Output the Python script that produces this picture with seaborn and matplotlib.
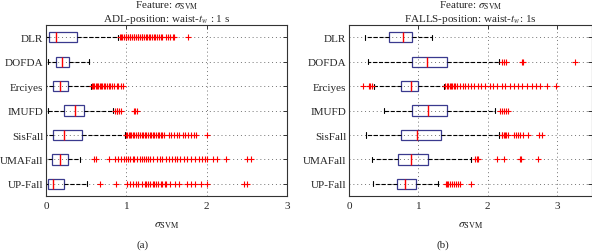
import numpy as np
import pandas as pd
import matplotlib
matplotlib.use("Agg")
import matplotlib.pyplot as plt
import seaborn as sns

datasets = ["DLR", "DOFDA", "Erciyes", "IMUFD", "SisFall", "UMAFall", "UP-Fall"]

# box statistics (lower whisker, q1, median, q3, upper whisker)
adl_whislo = [0.005, 0.02, 0.005, 0.02, 0.005, 0.005, 0.005]
adl_q1 = [0.04, 0.12, 0.083, 0.23, 0.09, 0.08, 0.03]
adl_med = [0.125, 0.195, 0.18, 0.355, 0.22, 0.17, 0.09]
adl_q3 = [0.39, 0.29, 0.275, 0.475, 0.45, 0.28, 0.225]
adl_whishi = [0.90, 0.54, 0.555, 0.83, 0.985, 0.42, 0.51]
adl_fliers = [
    [0.92, 0.94, 0.95, 0.97, 0.99, 1.0, 1.02, 1.04, 1.05, 1.07, 1.09, 1.1, 1.12, 1.14, 1.15,
     1.17, 1.19, 1.2, 1.22, 1.24, 1.26, 1.28, 1.3, 1.32, 1.34, 1.36, 1.38, 1.41, 1.43, 1.45,
     1.49, 1.52, 1.55, 1.58, 1.59, 1.77],
    [],
    [0.57, 0.59, 0.6, 0.62, 0.64, 0.65, 0.67, 0.69, 0.7, 0.72, 0.74, 0.76, 0.78, 0.8, 0.82,
     0.85, 0.88, 0.9, 0.93, 0.96],
    [0.86, 0.88, 0.89, 0.91, 0.93, 1.09, 1.11, 1.13],
    [1.0, 1.01, 1.03, 1.05, 1.06, 1.08, 1.1, 1.12, 1.14, 1.15, 1.17, 1.19, 1.21, 1.23, 1.25,
     1.27, 1.29, 1.31, 1.33, 1.35, 1.37, 1.39, 1.41, 1.43, 1.45, 1.47, 1.53, 1.56, 1.59, 1.63,
     1.66, 1.7, 1.73, 1.77, 1.8, 1.84, 1.87, 2.01],
    [0.6, 0.62, 0.79, 0.86, 0.9, 0.93, 0.97, 1.0, 1.02, 1.05, 1.08, 1.1, 1.13, 1.17, 1.2, 1.22,
     1.25, 1.27, 1.3, 1.33, 1.38, 1.42, 1.45, 1.5, 1.53, 1.57, 1.6, 1.63, 1.67, 1.72, 1.76,
     1.8, 1.85, 1.9, 1.94, 1.98, 2.0, 2.08, 2.13, 2.24, 2.5, 2.55],
    [0.67, 0.87, 1.01, 1.04, 1.08, 1.12, 1.15, 1.2, 1.23, 1.25, 1.27, 1.3, 1.33, 1.35, 1.37,
     1.4, 1.43, 1.45, 1.48, 1.5, 1.55, 1.6, 1.66, 1.75, 1.8, 1.85, 1.93, 2.0, 2.47, 2.5],
]

falls_whislo = [0.23, 0.28, 0.365, 0.50, 0.24, 0.33, 0.34]
falls_q1 = [0.57, 0.905, 0.745, 0.905, 0.745, 0.70, 0.69]
falls_med = [0.775, 1.13, 0.89, 1.135, 0.985, 0.89, 0.81]
falls_q3 = [0.91, 1.41, 1.0, 1.41, 1.32, 1.145, 0.967]
falls_whishi = [1.20, 2.16, 1.375, 2.11, 2.17, 1.76, 1.29]
falls_fliers = [
    [],
    [2.21, 2.23, 2.26, 2.49, 2.51, 3.26],
    [0.2, 0.29, 0.31, 0.33, 1.39, 1.41, 1.43, 1.45, 1.47, 1.49, 1.51, 1.53, 1.56, 1.6, 1.64,
     1.68, 1.72, 1.76, 1.8, 1.86, 1.9, 1.96, 2.03, 2.08, 2.14, 2.2, 2.25, 2.32, 2.38, 2.44,
     2.5, 2.57, 2.64, 2.7, 2.75, 2.85, 2.99],
    [2.18, 2.2, 2.23, 2.26, 2.29],
    [2.2, 2.21, 2.23, 2.25, 2.27, 2.29, 2.38, 2.41, 2.44, 2.47, 2.51, 2.58, 2.74, 2.79],
    [1.82, 1.84, 1.86, 2.13, 2.24, 2.46, 2.48, 2.73],
    [1.4, 1.41, 1.43, 1.45, 1.48, 1.51, 1.54, 1.57, 1.6, 1.76],
]


def build_frame(lo, q1, med, q3, hi, fliers, n=400):
    # rebuild a sample whose box statistics match the ones
    rows = []
    for i, name in enumerate(datasets):
        vals = [lo[i]] + [q1[i]] * n + [med[i]] * n + [q3[i]] * n + [hi[i]] + list(fliers[i])
        rows += [(name, v) for v in vals]
    return pd.DataFrame(rows, columns=["dataset", "sigma"])


adl = build_frame(adl_whislo, adl_q1, adl_med, adl_q3, adl_whishi, adl_fliers)
falls = build_frame(falls_whislo, falls_q1, falls_med, falls_q3, falls_whishi, falls_fliers)

sns.set_style("white")
plt.rcParams["font.family"] = ["Liberation Serif", "DejaVu Serif"]
plt.rcParams["mathtext.fontset"] = "stix"

fig = plt.figure(figsize=(5.92, 2.53), dpi=100)
ax1 = fig.add_axes([0.0777, 0.221, 0.407, 0.676])
ax2 = fig.add_axes([0.5895, 0.221, 0.41, 0.676])

box_kw = dict(
    orient="h", order=datasets, width=0.42, whis=1.5,
    boxprops=dict(facecolor="none", edgecolor="#3a3a8e", linewidth=0.9),
    medianprops=dict(color="red", linewidth=1.0),
    whiskerprops=dict(color="black", linestyle="--", linewidth=0.8),
    capprops=dict(color="black", linewidth=0.8),
    flierprops=dict(marker="+", markeredgecolor="red", markerfacecolor="red",
                    markersize=5, markeredgewidth=0.8),
)

sns.boxplot(data=adl, x="sigma", y="dataset", ax=ax1, **box_kw)
sns.boxplot(data=falls, x="sigma", y="dataset", ax=ax2, **box_kw)

titles = ["Feature: $\\sigma_{\\mathrm{SVM}}$\nADL-position: waist-$t_w$ : 1 s",
          "Feature: $\\sigma_{\\mathrm{SVM}}$\nFALLS-position: waist-$t_w$: 1s"]
for ax, xmax, title in [(ax1, 3, titles[0]), (ax2, 3.5, titles[1])]:
    ax.set_xlim(0, xmax)
    ax.set_ylim(6.5, -0.5)
    ax.set_xticks([0, 1, 2, 3])
    ax.set_xlabel("$\\sigma_{\\mathrm{SVM}}$", fontsize=8.5, labelpad=6)
    ax.set_ylabel("")
    ax.set_title(title, fontsize=8, pad=3, linespacing=1.1)
    ax.grid(True, linestyle=(0, (1, 3)), color="0.45", linewidth=0.7)
    ax.set_axisbelow(True)
    ax.tick_params(direction="in", length=3, top=True, right=True, labelsize=8,
                   width=0.7, color="0.2")
    ax.tick_params(axis="y", pad=2)
    for s in ax.spines.values():
        s.set_visible(True)
        s.set_linewidth(0.8)
        s.set_color("0.2")

fig.text(0.241, 0.022, "(a)", fontsize=8, ha="center")
fig.text(0.748, 0.022, "(b)", fontsize=8, ha="center")

fig.savefig("out.png", dpi=100)
